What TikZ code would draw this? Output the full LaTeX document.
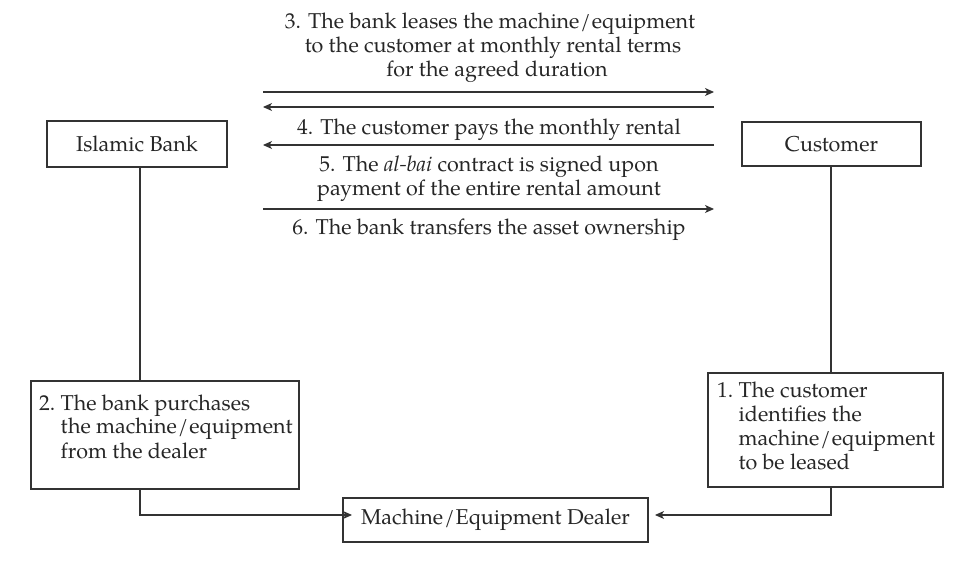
\documentclass[tikz,border=0pt]{standalone}
\usepackage{fontspec}
\setmainfont{TeX Gyre Pagella}
\usetikzlibrary{arrows.meta,calc}
\begin{document}
\begin{tikzpicture}[x=1pt,y=-1pt,
  every node/.style={font=\fontsize{21.5}{24}\selectfont, text=black!85},
  box/.style={draw=black!80, line width=1.1pt, rectangle, inner sep=0pt},
  txt/.style={inner sep=0pt, align=center},
  ln/.style={draw=black!80, line width=1.1pt},
  arr/.style={ln, -{Stealth[length=9pt,width=8pt,inset=2.5pt]}}]
\useasboundingbox (0,0) rectangle (962,561);
% main boxes
\node[box, minimum width=180pt, minimum height=46pt] (bank) at (137,144) {Islamic Bank};
\node[box, minimum width=179pt, minimum height=44pt] (cust) at (831.5,144) {Customer};
\node[box, minimum width=268pt, minimum height=108pt] (b2) at (165,435) {};
\node[box, minimum width=235pt, minimum height=114pt] (b1) at (825.5,430) {};
\node[box, minimum width=305pt, minimum height=44pt] (dealer) at (495.5,520) {Machine\kern1pt/\kern1pt Equipment Dealer};
% box texts
\node[txt, anchor=base west] (t2) at (39,410) {\begin{tabular}[t]{@{}l@{\ }l@{}}2. & The bank purchases\\ & the machine\kern1pt/\kern1pt equipment\\ & from the dealer\end{tabular}};
\node[txt, anchor=base west] (t1) at (717,398) {\begin{tabular}[t]{@{}l@{\ }l@{}}1. & The customer\\ & identifies the\\ & machine\kern1pt/\kern1pt equipment\\ & to be leased\end{tabular}};
% arrow end coordinates
\coordinate (L1) at (263,92);  \coordinate (R1) at (714,92);
\coordinate (L2) at (263,107); \coordinate (R2) at (714,107);
\coordinate (L3) at (263,145); \coordinate (R3) at (714,145);
\coordinate (L4) at (263,209); \coordinate (R4) at (714,209);
\coordinate (bx) at (140,0);
\coordinate (cx) at (831,0);
\coordinate (d1) at (352,515);
\coordinate (d2) at (655,515);
% horizontal arrows
\draw[arr] (L1) -- (R1);
\draw[arr] (R2) -- (L2);
\draw[arr] (R3) -- (L3);
\draw[arr] (L4) -- (R4);
% arrow labels (base = last line)
\node[txt, anchor=base] (l3) at (490,77) {3. The bank leases the machine\kern1pt/\kern1pt equipment\\\hspace*{6pt}to the customer at monthly rental terms\\\hspace*{14pt}for the agreed duration};
\node[txt, anchor=base] (l4) at (489,135) {4. The customer pays the monthly rental};
\node[txt, anchor=base] (l5) at (489,196) {5. The \textit{al-bai} contract is signed upon\\payment of the entire rental amount};
\node[txt, anchor=base] (l6) at (489,235) {6. The bank transfers the asset ownership};
% vertical connectors
\draw[ln] (bank.south -| bx) -- (b2.north -| bx);
\draw[arr] (b2.south -| bx) |- (d1);
\draw[ln] (cust.south -| cx) -- (b1.north -| cx);
\draw[arr] (b1.south -| cx) |- (d2);
\end{tikzpicture}
\end{document}
